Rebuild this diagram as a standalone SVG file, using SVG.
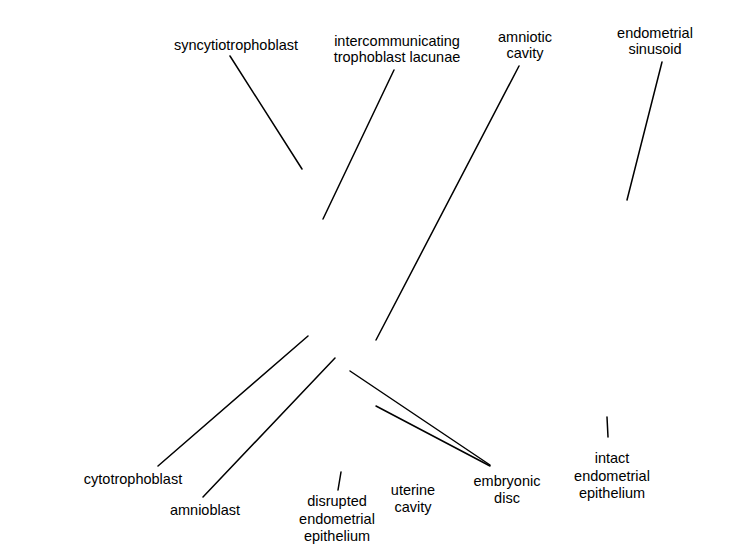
<svg xmlns="http://www.w3.org/2000/svg" width="750" height="550" viewBox="0 0 750 550">
<style>
text{font-family:"Liberation Sans",Arial,sans-serif;font-size:14.5px;fill:#000;text-anchor:middle}
.c line{stroke:#000;stroke-width:1.5;stroke-linecap:round}
</style>
<rect width="750" height="550" fill="#fff"/>
<g class="c" id="connectors">
<line x1="230" y1="56" x2="302" y2="169"/>
<line x1="394" y1="70" x2="323" y2="219"/>
<line x1="519" y1="66" x2="376" y2="340"/>
<line x1="662" y1="62" x2="627" y2="200"/>
<line x1="308" y1="336" x2="158" y2="466"/>
<line x1="335" y1="358" x2="203" y2="497"/>
<line x1="350" y1="371" x2="490" y2="465"/>
<line x1="376" y1="406" x2="490" y2="466"/>
<line x1="341" y1="472" x2="338" y2="490"/>
<line x1="607" y1="417" x2="608" y2="437"/>
</g>
<g id="syncytiotrophoblast"><text x="236" y="50">syncytiotrophoblast</text></g>
<g id="lacunae"><text x="397" y="46">intercommunicating</text><text x="397" y="62">trophoblast lacunae</text></g>
<g id="amniotic-cavity"><text x="525" y="42">amniotic</text><text x="525" y="58">cavity</text></g>
<g id="endometrial-sinusoid"><text x="655" y="38">endometrial</text><text x="655" y="54">sinusoid</text></g>
<g id="cytotrophoblast"><text x="133" y="484">cytotrophoblast</text></g>
<g id="amnioblast"><text x="205" y="515">amnioblast</text></g>
<g id="disrupted"><text x="337" y="506">disrupted</text><text x="337" y="523.5">endometrial</text><text x="337" y="541">epithelium</text></g>
<g id="uterine-cavity"><text x="413" y="495">uterine</text><text x="413" y="512">cavity</text></g>
<g id="embryonic-disc"><text x="507" y="486">embryonic</text><text x="507" y="503">disc</text></g>
<g id="intact"><text x="612" y="463">intact</text><text x="612" y="480.5">endometrial</text><text x="612" y="498">epithelium</text></g>
</svg>
